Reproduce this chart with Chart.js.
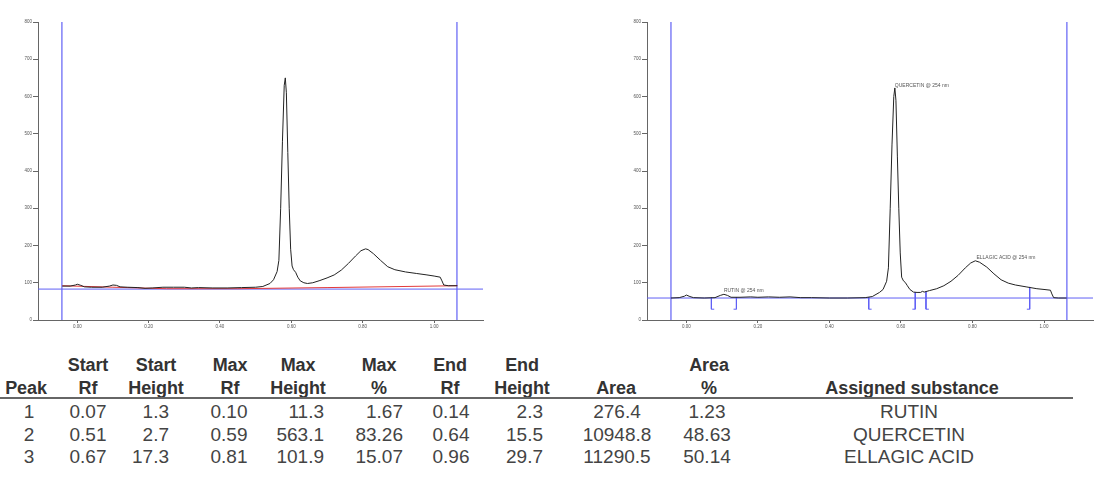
<!DOCTYPE html>
<html>
<head>
<meta charset="utf-8">
<title>HPTLC densitogram</title>
<script src="https://cdn.jsdelivr.net/npm/chart.js@4.4.0/dist/chart.umd.min.js"></script>
<style>
    body { margin: 0; background: #fff; width: 1104px; height: 495px; overflow: hidden; position: relative; font-family: "Liberation Sans", Arial, sans-serif; }
    .plot { position: absolute; top: 0; height: 340px; }
    #leftPlot { left: 0; width: 500px; }
    #rightPlot { left: 600px; width: 504px; }
    .cell { position: absolute; white-space: nowrap; line-height: 22px; }
    .head { font-size: 18px; font-weight: bold; color: #333; letter-spacing: -0.1px; }
    .val { font-size: 19px; color: #444; }
    #rule { position: absolute; left: 0; top: 397px; width: 1073px; height: 2px; background: #666; }
</style>
</head>
<body>
<div class="plot" id="leftPlot"><canvas id="leftChart" width="500" height="340"></canvas></div>
<div class="plot" id="rightPlot"><canvas id="rightChart" width="504" height="340"></canvas></div>
<div id="table"></div>
<div id="rule"></div>
<script>
// Axis ticks
const xTickValues = [0, 0.2, 0.4, 0.6, 0.8, 1.0];
const xTickLabels = ['0.00', '0.20', '0.40', '0.60', '0.80', '1.00'];
const yTickValues = [0, 100, 200, 300, 400, 500, 600, 700, 800];

// Left track: raw densitogram with red baseline
const leftRf = [-0.042, -0.02, -0.005, 0.00, 0.01, 0.02, 0.04, 0.07, 0.09, 0.10, 0.11, 0.12, 0.14, 0.17, 0.19, 0.21, 0.24, 0.27, 0.30, 0.32, 0.34, 0.38, 0.42, 0.46, 0.50, 0.52, 0.54, 0.55, 0.56, 0.565, 0.570, 0.575, 0.580, 0.583, 0.586, 0.590, 0.594, 0.598, 0.602, 0.606, 0.612, 0.618, 0.625, 0.635, 0.645, 0.66, 0.68, 0.70, 0.72, 0.74, 0.76, 0.78, 0.795, 0.808, 0.815, 0.83, 0.85, 0.87, 0.89, 0.92, 0.95, 0.98, 1.00, 1.017, 1.022, 1.027, 1.04, 1.065];
const leftSignal = [91, 91, 94, 96, 93, 89, 88, 88, 91, 94, 93, 89, 88, 87, 85, 86, 88, 88, 88, 86, 87, 86, 86, 87, 88, 90, 98, 108, 130, 160, 300, 480, 630, 650, 610, 450, 300, 190, 145, 135, 128, 115, 105, 100, 98, 100, 106, 113, 121, 134, 152, 172, 186, 191, 189, 178, 160, 143, 135, 129, 125, 121, 118, 115, 105, 94, 92, 92];
const leftBaselineRf = [-0.042, 0.10, 0.25, 0.45, 0.70, 1.065];
const leftBaselineValue = [92, 88, 84, 84, 87, 92];
const leftLevel = 83;

// Right track: integrated densitogram
const rightRf = [-0.043, -0.02, -0.005, 0.00, 0.01, 0.02, 0.05, 0.08, 0.095, 0.105, 0.115, 0.125, 0.15, 0.18, 0.20, 0.23, 0.26, 0.29, 0.32, 0.35, 0.40, 0.45, 0.50, 0.52, 0.54, 0.55, 0.56, 0.565, 0.570, 0.575, 0.580, 0.583, 0.586, 0.590, 0.594, 0.598, 0.602, 0.607, 0.612, 0.618, 0.625, 0.635, 0.645, 0.655, 0.660, 0.665, 0.68, 0.70, 0.72, 0.74, 0.76, 0.78, 0.795, 0.808, 0.82, 0.84, 0.86, 0.88, 0.90, 0.92, 0.95, 0.98, 1.00, 1.018, 1.022, 1.027, 1.04, 1.063];
const rightSignal = [59, 60, 64, 67, 63, 60, 59, 60, 66, 69, 66, 61, 61, 62, 61, 62, 61, 62, 60, 60, 59, 59, 60, 63, 74, 82, 104, 140, 300, 470, 600, 623, 590, 440, 300, 180, 115, 105, 101, 92, 82, 75, 74, 74, 77, 75, 79, 84, 92, 104, 120, 140, 153, 159, 155, 142, 124, 108, 99, 94, 89, 84, 82, 80, 70, 60, 59, 59];
const rightLevel = 59;
const labelRf = [0.105, 0.583, 0.811];

// Blue integration limits (Rf)
const trackLimits = [-0.043, 1.064];

// Peak table
const peakNo = [1, 2, 3];
const startRf = [0.07, 0.51, 0.67];
const startHeight = [1.3, 2.7, 17.3];
const maxRf = [0.10, 0.59, 0.81];
const maxHeight = [11.3, 563.1, 101.9];
const maxPct = [1.67, 83.26, 15.07];
const endRf = [0.14, 0.64, 0.96];
const endHeight = [2.3, 15.5, 29.7];
const area = [276.4, 10948.8, 11290.5];
const areaPct = [1.23, 48.63, 50.14];
const substance = ['RUTIN', 'QUERCETIN', 'ELLAGIC ACID'];

const BLUE = 'rgb(96, 96, 245)';
const AXIS = '#666';

function points(xs, ys) {
    return xs.map((x, i) => ({ x: x, y: ys[i] }));
}

function lineSet(data, color, width) {
    return { data: data, borderColor: color, backgroundColor: color, borderWidth: width || 1, showLine: true, pointRadius: 0, fill: false, tension: 0, spanGaps: false };
}

// Blue frame: two vertical limits plus horizontal level line
function frameSets(level) {
    return [
        lineSet([{ x: trackLimits[0], y: 0 }, { x: trackLimits[0], y: 800 }], BLUE, 1.2),
        lineSet([{ x: trackLimits[1], y: 0 }, { x: trackLimits[1], y: 800 }], BLUE, 1.2),
        lineSet([{ x: -0.11, y: level }, { x: 1.137, y: level }], BLUE, 1)
    ];
}

// Start / end markers for each integrated peak
function markerPoints(level) {
    const pts = [];
    const foot = 29;
    peakNo.forEach((p, i) => {
        pts.push({ x: startRf[i], y: level + startHeight[i] }, { x: startRf[i], y: foot }, { x: startRf[i] + 0.008, y: foot }, { x: startRf[i], y: null });
        pts.push({ x: endRf[i], y: level + endHeight[i] }, { x: endRf[i], y: foot }, { x: endRf[i] - 0.008, y: foot }, { x: endRf[i], y: null });
    });
    return pts;
}

const peakLabels = {
    id: 'peakLabels',
    afterDatasetsDraw(chart, args, opts) {
        if (!opts.show) return;
        const ctx = chart.ctx;
        const xs = chart.scales.x, ys = chart.scales.y;
        ctx.save();
        ctx.font = '5px "Liberation Sans", Arial, sans-serif';
        ctx.fillStyle = '#555';
        ctx.textAlign = 'left';
        ctx.textBaseline = 'alphabetic';
        substance.forEach((s, i) => {
            const px = xs.getPixelForValue(labelRf[i]);
            const py = ys.getPixelForValue(opts.level + maxHeight[i]);
            ctx.fillText(s + ' @ 254 nm', px, py - 1.5);
        });
        ctx.restore();
    }
};

function createChart(id, datasets, yWidth, rightPad, labelOpts) {
    const ctx = document.getElementById(id).getContext('2d');
    return new Chart(ctx, {
        type: 'scatter',
        data: { datasets: datasets },
        plugins: [peakLabels],
        options: {
            responsive: false,
            animation: false,
            layout: { padding: { top: 22, right: rightPad, left: 0, bottom: 0 } },
            plugins: { legend: { display: false }, tooltip: { enabled: false }, peakLabels: labelOpts },
            scales: {
                x: {
                    type: 'linear', min: -0.11, max: 1.137,
                    afterBuildTicks: s => { s.ticks = xTickValues.map(v => ({ value: v })); },
                    afterFit: s => { s.height = 20; },
                    ticks: { callback: (v, i) => xTickLabels[i], font: { size: 4.5, family: 'Liberation Sans' }, color: '#555', padding: 1, maxRotation: 0 },
                    grid: { drawOnChartArea: false, drawTicks: true, tickLength: 3, color: AXIS },
                    border: { display: true, color: AXIS, width: 1 }
                },
                y: {
                    type: 'linear', min: 0, max: 800,
                    afterBuildTicks: s => { s.ticks = yTickValues.map(v => ({ value: v })); },
                    afterFit: s => { s.width = yWidth; },
                    ticks: { font: { size: 4.5, family: 'Liberation Sans' }, color: '#555', padding: 1 },
                    grid: { drawOnChartArea: false, drawTicks: true, tickLength: 5, color: AXIS },
                    border: { display: true, color: AXIS, width: 1 }
                }
            }
        }
    });
}

createChart('leftChart', [
    lineSet(points(leftRf, leftSignal), '#222', 1),
    lineSet(points(leftBaselineRf, leftBaselineValue), '#e23a3a', 1)
].concat(frameSets(leftLevel)), 38, 17, { show: false });

createChart('rightChart', [
    lineSet(points(rightRf, rightSignal), '#222', 1),
    lineSet(markerPoints(rightLevel), BLUE, 1)
].concat(frameSets(rightLevel)), 47, 11, { show: true, level: rightLevel });

// Peak table below the tracks
const columns = [
    { head: ['', 'Peak'], hx: 26, vx: 29, align: 'center', fmt: i => String(peakNo[i]) },
    { head: ['Start', 'Rf'], hx: 88, vx: 88, align: 'center', fmt: i => startRf[i].toFixed(2) },
    { head: ['Start', 'Height'], hx: 156, vx: 169, align: 'right', fmt: i => startHeight[i].toFixed(1) },
    { head: ['Max', 'Rf'], hx: 230, vx: 229, align: 'center', fmt: i => maxRf[i].toFixed(2) },
    { head: ['Max', 'Height'], hx: 298, vx: 324, align: 'right', fmt: i => maxHeight[i].toFixed(1) },
    { head: ['Max', '%'], hx: 379, vx: 403, align: 'right', fmt: i => maxPct[i].toFixed(2) },
    { head: ['End', 'Rf'], hx: 450, vx: 451, align: 'center', fmt: i => endRf[i].toFixed(2) },
    { head: ['End', 'Height'], hx: 522, vx: 543, align: 'right', fmt: i => endHeight[i].toFixed(1) },
    { head: ['', 'Area'], hx: 616, vx: 617, align: 'center', fmt: i => area[i].toFixed(1) },
    { head: ['Area', '%'], hx: 709, vx: 707, align: 'center', fmt: i => areaPct[i].toFixed(2) },
    { head: ['', 'Assigned substance'], hx: 912, vx: 909, align: 'center', fmt: i => substance[i] }
];
const headRowY = [365, 387.5];
const bodyRowY = [412, 434.5, 457];

function addCell(cls, text, x, cy, align) {
    const d = document.createElement('div');
    d.className = 'cell ' + cls;
    d.textContent = text;
    d.style.top = (cy - 11) + 'px';
    if (align === 'right') {
        d.style.right = (1104 - x) + 'px';
    } else {
        d.style.left = x + 'px';
        d.style.transform = 'translateX(-50%)';
    }
    document.getElementById('table').appendChild(d);
}

columns.forEach(col => {
    col.head.forEach((t, r) => { if (t) addCell('head', t, col.hx, headRowY[r], 'center'); });
    peakNo.forEach((p, i) => addCell('val', col.fmt(i), col.vx, bodyRowY[i], col.align));
});
</script>
</body>
</html>
